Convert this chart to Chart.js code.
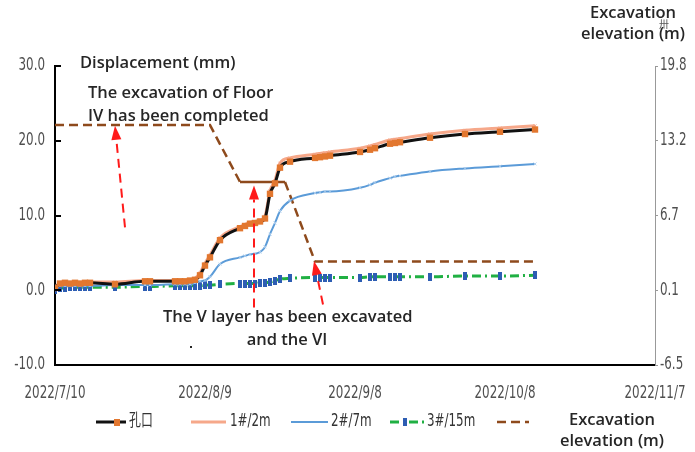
<!DOCTYPE html>
<html>
<head>
<meta charset="utf-8">
<script src="https://cdn.jsdelivr.net/npm/chart.js@4.4.1/dist/chart.umd.min.js"></script>
<style>
  html, body { margin: 0; padding: 0; background: #fff; }
  #wrap { width: 695px; height: 452px; }
</style>
</head>
<body>
<div id="wrap"><canvas id="c" width="695" height="452"></canvas></div>
<script>
// days counted from 2022/7/10
var days = [0, 1, 2, 3, 4, 5, 6, 7, 12, 18, 19, 24, 25, 26, 27, 28, 29, 30, 31, 33,
  37, 38, 39, 40, 41, 42, 43, 44, 45, 47, 52, 53, 54, 55, 61, 63, 64, 67, 68, 69, 75, 82, 89, 96];

var kouValues = [0.3, 0.9, 1.0, 0.9, 1.0, 0.9, 1.0, 1.0, 0.8, 1.2, 1.2, 1.2, 1.2, 1.2, 1.3, 1.4, 2.0, 3.3, 4.4, 6.7,
  8.3, 8.6, 8.9, 9.0, 9.2, 9.6, 12.9, 14.3, 16.4, 17.2, 17.7, 17.8, 17.9, 18.0, 18.5, 18.8, 19.0, 19.6, 19.7, 19.8,
  20.4, 20.9, 21.2, 21.5];
var m2Values = [0.4, 1.0, 1.1, 1.0, 1.1, 1.0, 1.1, 1.1, 1.1, 1.3, 1.3, 1.3, 1.3, 1.3, 1.4, 1.6, 2.3, 3.6, 4.7, 7.0,
  8.5, 8.8, 9.1, 9.2, 9.4, 9.9, 13.3, 14.7, 17.0, 17.7, 18.2, 18.3, 18.4, 18.5, 19.0, 19.3, 19.5, 20.1, 20.2, 20.3,
  20.9, 21.4, 21.7, 22.0];
var m7Values = [0.2, 0.6, 0.6, 0.6, 0.6, 0.6, 0.6, 0.6, 0.7, 0.7, 0.7, 0.8, 0.8, 0.8, 0.8, 1.0, 1.2, 1.3, 1.8, 3.5,
  4.4, 4.6, 4.8, 4.9, 5.1, 5.8, 7.5, 9.0, 10.6, 12.0, 13.0, 13.1, 13.2, 13.2, 13.7, 14.1, 14.4, 15.0, 15.2, 15.3,
  15.9, 16.3, 16.6, 16.9];
var m15Values = [0.1, 0.3, 0.3, 0.4, 0.4, 0.4, 0.4, 0.4, 0.4, 0.5, 0.5, 0.6, 0.6, 0.6, 0.6, 0.6, 0.6, 0.7, 0.7, 0.8,
  0.9, 0.9, 0.9, 0.9, 1.0, 1.0, 1.1, 1.3, 1.5, 1.6, 1.7, 1.7, 1.7, 1.7, 1.7, 1.8, 1.8, 1.8, 1.8, 1.8,
  1.8, 1.9, 1.9, 2.0];

var elevDays = [0, 31, 37, 46, 52, 96];
var elevValues = [14.6, 14.6, 9.6, 9.6, 2.6, 2.6];

var seriesNames = ['孔口', '1#/2m', '2#/7m', '3#/15m'];
var elevName = ['Excavation', 'elevation (m)'];

var xTickLabels = ['2022/7/10', '2022/8/9', '2022/9/8', '2022/10/8', '2022/11/7'];
var rightTickLabels = ['-6.5', '0.1', '6.7', '13.2', '19.8'];

// annotation arrows: [tailDay, tailMm, tipDay, tipMm]
var arrowsMm = [[14, 8.4, 12, 22.0], [39.8, -2.3, 39.8, 14.0], [53.6, -1.9, 51.8, 3.9]];

var TICK_FONT = '17px "DejaVu Sans", "Noto Sans CJK SC", sans-serif';
var NOTE_FONT = '600 16.5px "Open Sans", "Noto Sans", sans-serif';

function pts(xs, ys) {
  return xs.map(function (x, i) { return { x: x, y: ys[i] }; });
}

// narrow tick text, like the squeezed font of the original
function narrowText(ctx, txt, x, y, align) {
  ctx.save();
  ctx.translate(x, y);
  ctx.scale(0.7, 1);
  ctx.font = TICK_FONT;
  ctx.textAlign = align;
  ctx.textBaseline = 'middle';
  ctx.fillText(txt, 0, 0);
  ctx.restore();
}

// blue bar markers of the 3#/15m curve
var blueMark = document.createElement('canvas');
blueMark.width = 4; blueMark.height = 8;
(function () { var g = blueMark.getContext('2d'); g.fillStyle = '#2d5db3'; g.fillRect(0, 0, 4, 8); })();

var decor = {
  id: 'decor',
  afterDraw: function (chart) {
    var ctx = chart.ctx;
    var x = chart.scales.x, y = chart.scales.y, y2 = chart.scales.y2;
    var area = chart.chartArea;

    // tick labels
    ctx.save();
    ctx.fillStyle = '#4f4f4f';
    y.ticks.forEach(function (t) {
      narrowText(ctx, t.value.toFixed(1), area.left - 10, y.getPixelForValue(t.value), 'right');
    });
    y2.ticks.forEach(function (t, i) {
      narrowText(ctx, rightTickLabels[i], area.right + 5, y2.getPixelForValue(t.value), 'left');
    });
    x.ticks.forEach(function (t, i) {
      narrowText(ctx, xTickLabels[i], x.getPixelForValue(t.value), area.bottom + 29, 'center');
    });
    ctx.restore();

    // small inner ticks on the left axis
    ctx.save();
    ctx.strokeStyle = '#000';
    ctx.lineWidth = 2;
    y.ticks.forEach(function (t) {
      if (t.value === y.min) return;
      var py = Math.round(y.getPixelForValue(t.value));
      ctx.beginPath(); ctx.moveTo(area.left, py); ctx.lineTo(area.left + 6, py); ctx.stroke();
    });
    ctx.restore();

    // red dashed arrows
    arrowsMm.forEach(function (a) {
      var x1 = x.getPixelForValue(a[0]), y1 = y.getPixelForValue(a[1]);
      var x2 = x.getPixelForValue(a[2]), y2p = y.getPixelForValue(a[3]);
      var ang = Math.atan2(y2p - y1, x2 - x1);
      var head = 14, half = 5;
      var bx = x2 - head * Math.cos(ang), by = y2p - head * Math.sin(ang);
      ctx.save();
      ctx.strokeStyle = '#ff1a1a';
      ctx.fillStyle = '#ff1a1a';
      ctx.lineWidth = 2;
      ctx.setLineDash([9, 6]);
      ctx.beginPath(); ctx.moveTo(x1, y1); ctx.lineTo(bx, by); ctx.stroke();
      ctx.setLineDash([]);
      ctx.beginPath();
      ctx.moveTo(x2, y2p);
      ctx.lineTo(bx + half * Math.sin(ang), by - half * Math.cos(ang));
      ctx.lineTo(bx - half * Math.sin(ang), by + half * Math.cos(ang));
      ctx.closePath(); ctx.fill();
      ctx.restore();
    });

    // texts
    ctx.save();
    ctx.fillStyle = '#262626';
    ctx.font = NOTE_FONT;
    ctx.textBaseline = 'middle';
    ctx.textAlign = 'left';
    ctx.fillText('Displacement (mm)', 80, 63);
    ctx.fillText('The excavation of Floor', 88, 93);
    ctx.fillText('IV has been completed', 88, 116);
    ctx.fillText('The V layer has been excavated', 163, 317);
    ctx.textAlign = 'center';
    ctx.fillText('and the VI', 287, 340);
    ctx.fillText(elevName[0], 633, 13);
    ctx.fillText(elevName[1], 633, 34);
    ctx.fillText(elevName[0], 612, 420);
    ctx.fillText(elevName[1], 612, 441);
    ctx.fillRect(190, 346, 2, 2);
    ctx.font = '10px "Noto Sans CJK SC", sans-serif';
    ctx.fillStyle = '#555';
    ctx.fillText('卅', 664, 24);
    ctx.restore();

    // legend
    var ds = chart.data.datasets;
    var ly = 422;
    var items = [
      { i: 0, x0: 96, x1: 126, tx: 129 },
      { i: 1, x0: 191, x1: 226, tx: 230 },
      { i: 2, x0: 291, x1: 328, tx: 331 },
      { i: 3, x0: 390, x1: 425, tx: 427 },
      { i: 4, x0: 497, x1: 529, tx: null }
    ];
    items.forEach(function (it) {
      var d = ds[it.i];
      ctx.save();
      ctx.strokeStyle = d.borderColor;
      ctx.lineWidth = d.borderWidth;
      ctx.setLineDash(d.borderDash || []);
      ctx.beginPath(); ctx.moveTo(it.x0, ly); ctx.lineTo(it.x1, ly); ctx.stroke();
      ctx.setLineDash([]);
      var mx = (it.x0 + it.x1) / 2;
      if (it.i === 0) {
        ctx.fillStyle = d.pointBackgroundColor;
        ctx.fillRect(mx + 3, ly - 3, 6, 7);
      } else if (it.i === 3) {
        ctx.drawImage(blueMark, mx - 5, ly - 4);
      }
      if (it.tx !== null) {
        ctx.fillStyle = '#333';
        narrowText(ctx, seriesNames[it.i], it.tx, ly, 'left');
      }
      ctx.restore();
    });
  }
};

new Chart(document.getElementById('c'), {
  type: 'line',
  data: {
    datasets: [
      {
        label: seriesNames[0], data: pts(days, kouValues), yAxisID: 'y',
        borderColor: '#111', borderWidth: 3,
        pointStyle: 'rect', pointRadius: 4.5, pointBackgroundColor: '#e2772f', pointBorderColor: '#e2772f', pointBorderWidth: 0,
        cubicInterpolationMode: 'monotone'
      },
      {
        label: seriesNames[1], data: pts(days, m2Values), yAxisID: 'y',
        borderColor: '#f6a88a', borderWidth: 3,
        pointStyle: 'crossRot', pointRadius: 2, pointBorderColor: '#f3a283', pointBorderWidth: 1,
        cubicInterpolationMode: 'monotone'
      },
      {
        label: seriesNames[2], data: pts(days, m7Values), yAxisID: 'y',
        borderColor: '#5b9bd8', borderWidth: 2,
        pointStyle: 'crossRot', pointRadius: 2, pointBorderColor: '#a9cbec', pointBorderWidth: 1,
        cubicInterpolationMode: 'monotone'
      },
      {
        label: seriesNames[3], data: pts(days, m15Values), yAxisID: 'y',
        borderColor: '#20b043', borderWidth: 3, borderDash: [9, 4, 2, 4],
        pointStyle: blueMark, pointRadius: 4,
        cubicInterpolationMode: 'monotone'
      },
      {
        label: elevName.join(' '), data: pts(elevDays, elevValues), yAxisID: 'y2',
        borderColor: '#8e4a1c', borderWidth: 2.5, borderDash: [9, 5],
        pointRadius: 0, tension: 0,
        segment: { borderDash: function (c) { return c.p0DataIndex === 2 ? [] : [9, 5]; } }
      }
    ]
  },
  options: {
    responsive: false,
    animation: false,
    layout: { padding: { top: 66, left: 0, right: 0, bottom: 0 } },
    plugins: { legend: { display: false }, tooltip: { enabled: false } },
    scales: {
      x: {
        type: 'linear', min: 0, max: 120,
        afterFit: function (s) { s.height = 87; },
        afterBuildTicks: function (s) { s.ticks = xTickLabels.map(function (_, i) { return { value: i * 30 }; }); },
        ticks: { display: false },
        grid: { display: false, drawTicks: false },
        border: { color: '#000', width: 2 }
      },
      y: {
        position: 'left', min: -10, max: 30,
        afterFit: function (s) { s.width = 55; },
        ticks: { display: false, stepSize: 10 },
        grid: { display: false, drawTicks: false },
        border: { color: '#000', width: 2 }
      },
      y2: {
        position: 'right', min: -6.5, max: 19.8,
        afterFit: function (s) { s.width = 40; },
        afterBuildTicks: function (s) {
          s.ticks = rightTickLabels.map(function (_, i) { return { value: -6.5 + i * (26.3 / 4) }; });
        },
        ticks: { display: false },
        grid: { drawOnChartArea: false, drawTicks: true, tickLength: 3, color: '#999' },
        border: { color: '#999', width: 1 }
      }
    }
  },
  plugins: [decor]
});
</script>
</body>
</html>
